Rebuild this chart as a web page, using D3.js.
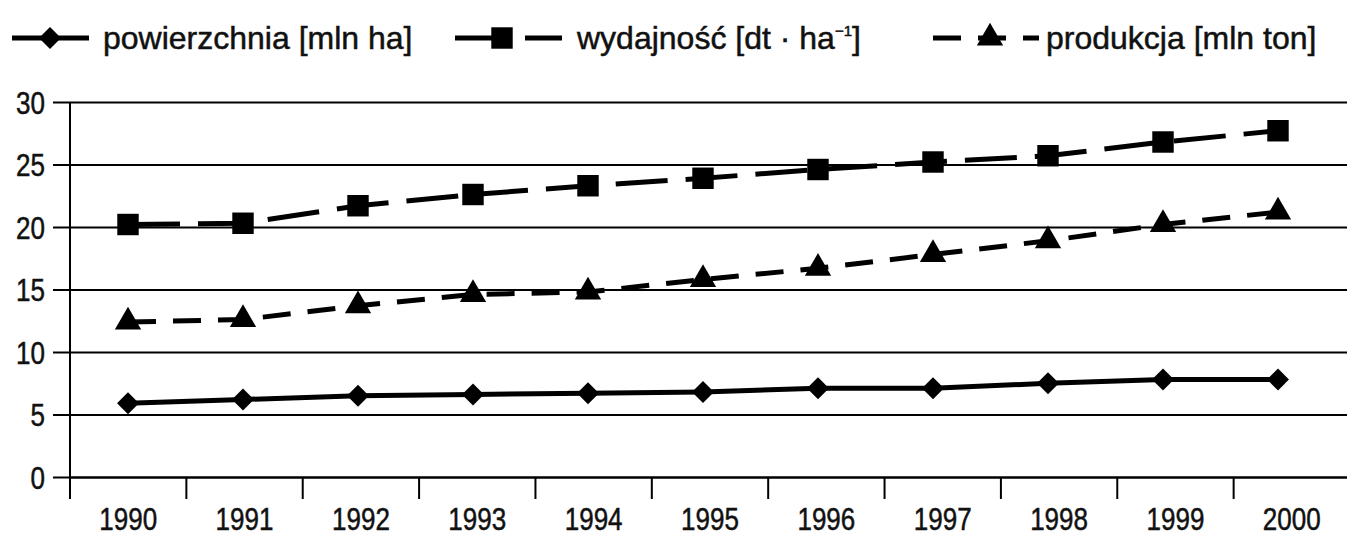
<!DOCTYPE html>
<html><head><meta charset="utf-8">
<script src="https://cdn.jsdelivr.net/npm/d3@7"></script>
<style>
html,body{margin:0;padding:0;background:#fff;}
svg{display:block;font-family:"Liberation Sans",Arial,sans-serif;}
text{stroke:#111;stroke-width:0.5px;}
</style></head>
<body>
<svg id="c" width="1347" height="537"></svg>
<script>
const years = ["1990","1991","1992","1993","1994","1995","1996","1997","1998","1999","2000"];
const powierzchnia = [5.9, 6.2, 6.5, 6.6, 6.7, 6.8, 7.1, 7.1, 7.5, 7.8, 7.8];
const wydajnosc = [20.2, 20.3, 21.7, 22.6, 23.3, 23.9, 24.6, 25.2, 25.7, 26.8, 27.7];
const produkcja = [12.4, 12.6, 13.7, 14.6, 14.8, 15.8, 16.7, 17.8, 18.9, 20.2, 21.2];
const yTicks = [0, 5, 10, 15, 20, 25, 30];
const seriesNames = ["powierzchnia [mln ha]", "wydajność [dt · ha", "produkcja [mln ton]"];

(function () {
const svg = d3.select("#c");
const pLeft = 70, pRight = 1347, pTop = 102, pBottom = 477;

const y = d3.scaleLinear().domain([0, 30]).range([pBottom, pTop]);
const xAxisScale = d3.scaleBand().domain(years).range([pLeft, 1350]);
const x = d3.scalePoint().domain(years).range([128, 1278]);

const SX = 0.84;
const FS = 31;

// gridlines + y axis
const gy = svg.append("g").attr("transform", `translate(${pLeft},0)`)
  .call(d3.axisLeft(y).tickValues(yTicks).tickSize(17).tickPadding(8));
gy.select(".domain").remove();
gy.selectAll(".tick line").attr("stroke", "#000").attr("stroke-width", 2);
gy.selectAll(".tick text").attr("font-size", FS).attr("fill", "#111")
  .attr("x", 0).attr("dy", "0.36em").attr("transform", `translate(-25,0) scale(${SX},1)`);
svg.append("g").attr("transform", `translate(${pLeft},0)`)
  .call(d3.axisRight(y).tickValues(yTicks).tickSize(pRight - pLeft).tickFormat(""))
  .call(g => { g.select(".domain").remove(); g.selectAll(".tick line").attr("stroke", "#000").attr("stroke-width", 2); });

// y axis line
svg.append("line").attr("x1", pLeft).attr("x2", pLeft).attr("y1", pTop).attr("y2", pBottom + 22)
  .attr("stroke", "#000").attr("stroke-width", 2);

// x axis
const gx = svg.append("g").attr("transform", `translate(0,${pBottom})`)
  .call(d3.axisBottom(xAxisScale).tickSize(0).tickPadding(32));
gx.select(".domain").attr("stroke", "#000").attr("stroke-width", 2);
gx.selectAll(".tick text").attr("font-size", FS).attr("fill", "#111")
  .attr("y", 53).attr("dy", 0).attr("transform", `scale(${SX},1)`);
gx.selectAll(".bnd").data(years).enter().append("line")
  .attr("x1", d => xAxisScale(d) + xAxisScale.bandwidth()).attr("x2", d => xAxisScale(d) + xAxisScale.bandwidth())
  .attr("y1", 0).attr("y2", 22).attr("stroke", "#000").attr("stroke-width", 2);

const line = d3.line().x((d, i) => x(years[i])).y(d => y(d));
const W = 5;
const series = [
  {vals: powierzchnia, dash: null, sym: d3.symbolSquare, size: 240, rot: 45},
  {vals: wydajnosc, dash: "52,18", sym: d3.symbolSquare, size: 460, rot: 0},
  {vals: produkcja, dash: "28,17", sym: d3.symbolTriangle, size: 300, rot: 0}
];

series.forEach(s => {
  svg.append("path").datum(s.vals).attr("d", line).attr("fill", "none")
    .attr("stroke", "#000").attr("stroke-width", W)
    .attr("stroke-dasharray", s.dash);
  svg.selectAll(null).data(s.vals).enter().append("path")
    .attr("d", d3.symbol().type(s.sym).size(s.size))
    .attr("transform", (d, i) => `translate(${x(years[i])},${y(d)}) rotate(${s.rot})`)
    .attr("fill", "#000");
});

// legend
const ly = 38;
const legend = [
  {x1: 12, x2: 89, mx: 50, tx: 103},
  {x1: 455, x2: 562, mx: 502, tx: 577},
  {x1: 933, x2: 1039, mx: 990, tx: 1046}
];
legend.forEach((l, i) => {
  const s = series[i];
  svg.append("line").attr("x1", l.x1).attr("x2", l.x2).attr("y1", ly).attr("y2", ly)
    .attr("stroke", "#000").attr("stroke-width", W).attr("stroke-dasharray", s.dash);
  svg.append("path").attr("d", d3.symbol().type(s.sym).size(s.size))
    .attr("transform", `translate(${l.mx},${ly}) rotate(${s.rot})`)
    .attr("fill", "#000");
  const t = svg.append("text").attr("x", l.tx).attr("y", ly + 11).attr("font-size", 32).attr("fill", "#111")
    .text(seriesNames[i]);
  if (i === 1) {
    t.append("tspan").attr("font-size", 15).attr("dy", -13).text("−1");
    t.append("tspan").attr("dy", 13).text("]");
  }
});
})();
</script>
</body></html>
